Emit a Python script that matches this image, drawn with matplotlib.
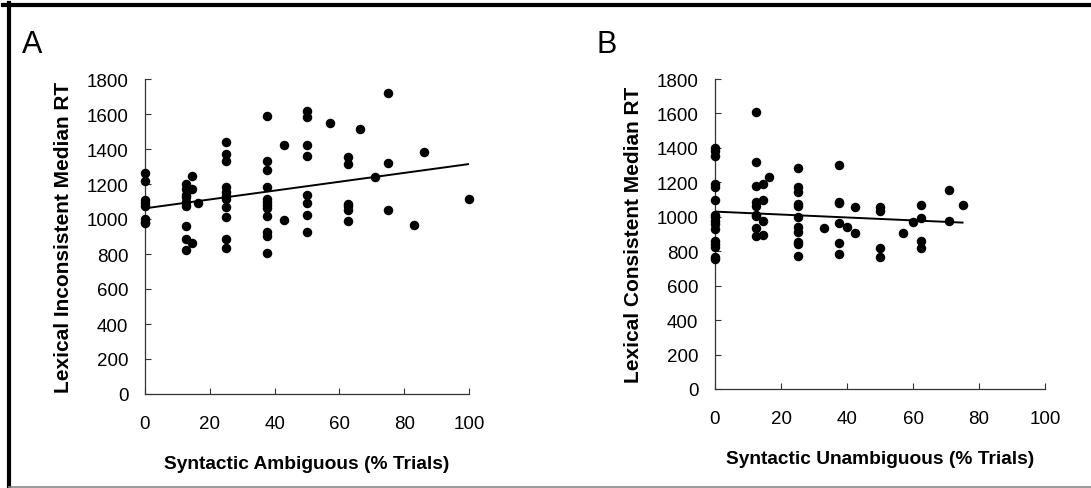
import matplotlib
matplotlib.use('Agg')
import matplotlib.pyplot as plt
from matplotlib.lines import Line2D

plt.rcParams['font.family'] = ['Liberation Sans', 'DejaVu Sans']

# Panel A: syntactic ambiguous (% trials) vs lexical inconsistent median RT
amb_x = [0, 0, 0, 0, 0, 0, 0, 0,
         12.5, 12.5, 12.5, 12.5, 12.5, 12.5, 12.5, 12.5, 12.5,
         14.5, 14.5, 14.5, 16.5,
         25, 25, 25, 25, 25, 25, 25, 25, 25, 25, 25,
         37.5, 37.5, 37.5, 37.5, 37.5, 37.5, 37.5, 37.5, 37.5, 37.5, 37.5, 37.5,
         43, 43,
         50, 50, 50, 50, 50, 50, 50, 50,
         57,
         62.5, 62.5, 62.5, 62.5, 62.5, 62.5,
         66.5, 71, 75, 75, 75, 83, 86, 100]
amb_rt = [1263, 1219, 1109, 1090, 1075, 1000, 985, 977,
          1200, 1171, 1137, 1124, 1099, 1072, 962, 886, 825,
          1244, 1171, 861, 1093,
          1438, 1371, 1333, 1185, 1152, 1133, 1114, 1067, 1010, 886, 834,
          1589, 1331, 1282, 1181, 1114, 1099, 1080, 1061, 1019, 924, 905, 808,
          1423, 992,
          1619, 1585, 1423, 1360, 1137, 1093, 1025, 924,
          1547,
          1356, 1314, 1086, 1072, 1053, 987,
          1514, 1242, 1720, 1322, 1051, 964, 1385, 1112]
amb_fit = (1061, 2.53)      # intercept, slope
amb_fit_range = (0, 100)

# Panel B: syntactic unambiguous (% trials) vs lexical consistent median RT
unamb_x = [0, 0, 0, 0, 0, 0, 0, 0, 0, 0, 0, 0, 0, 0, 0, 0,
           12.5, 12.5, 12.5, 12.5, 12.5, 12.5, 12.5, 12.5, 12.5,
           14.5, 14.5, 14.5, 14.5, 16.5,
           25, 25, 25, 25, 25, 25, 25, 25, 25, 25, 25,
           33,
           37.5, 37.5, 37.5, 37.5, 37.5, 37.5,
           40, 42.5, 42.5,
           50, 50, 50, 50,
           57, 60,
           62.5, 62.5, 62.5, 62.5,
           71, 71, 75]
unamb_rt = [1399, 1380, 1351, 1190, 1171, 1098, 1013, 1001, 974, 958, 929, 858, 842, 823, 765, 756,
            1606, 1320, 1177, 1088, 1065, 1013, 1003, 933, 891,
            1190, 1100, 978, 895, 1229,
            1281, 1171, 1146, 1074, 1061, 997, 939, 910, 856, 842, 775,
            935,
            1302, 1088, 1080, 962, 846, 781,
            939, 1059, 906,
            1055, 1032, 817, 765,
            906, 968,
            1069, 991, 862, 819,
            1156, 978, 1071]
unamb_fit = (1030, -0.85)
unamb_fit_range = (0, 75)

y_ticks = list(range(0, 1801, 200))
x_ticks = list(range(0, 101, 20))

fig = plt.figure(figsize=(10.91, 4.89), dpi=100)
ax_a = fig.add_axes([145 / 1091, 94 / 489, 324 / 1091, 315 / 489])
ax_b = fig.add_axes([715 / 1091, 99 / 489, 330 / 1091, 310 / 489])

panels = [
    (ax_a, amb_x, amb_rt, amb_fit, amb_fit_range,
     'Syntactic Ambiguous (% Trials)', 'Lexical Inconsistent Median RT', 'A', -0.38),
    (ax_b, unamb_x, unamb_rt, unamb_fit, unamb_fit_range,
     'Syntactic Unambiguous (% Trials)', 'Lexical Consistent Median RT', 'B', -0.36),
]

for ax, xs, ys, fit, rng, xlab, ylab, letter, lx in panels:
    ax.scatter(xs, ys, s=34, color='black', zorder=3, clip_on=False)
    fx = list(rng)
    fy = [fit[0] + fit[1] * v for v in fx]
    ax.plot(fx, fy, color='black', lw=1.4, zorder=2)
    ax.set_xlim(0, 100)
    ax.set_ylim(0, 1800)
    ax.set_xticks(x_ticks)
    ax.set_yticks(y_ticks)
    for s in ['top', 'right']:
        ax.spines[s].set_visible(False)
    for s in ['left', 'bottom']:
        ax.spines[s].set_color('#333333')
        ax.spines[s].set_linewidth(0.9)
    ax.tick_params(axis='both', direction='in', length=4, width=0.8,
                   color='#333333', labelsize=13.5)
    ax.tick_params(axis='x', pad=15)
    ax.tick_params(axis='y', pad=12)
    ax.set_xlabel(xlab, fontsize=13.8, fontweight='bold', labelpad=17)
    ax.set_ylabel(ylab, fontsize=15, fontweight='bold', labelpad=10)
    ax.text(lx, 1.16, letter, transform=ax.transAxes,
            fontsize=22, ha='left', va='top')

# border of the figure box
fig.add_artist(Line2D([3 / 1091, 1], [1 - 6 / 489, 1 - 6 / 489],
                      color='black', lw=3, transform=fig.transFigure))
fig.add_artist(Line2D([9 / 1091, 9 / 1091], [1 - 4 / 489, 0],
                      color='black', lw=3, transform=fig.transFigure))
fig.add_artist(Line2D([9 / 1091, 1], [1.5 / 489, 1.5 / 489],
                      color='#888888', lw=1.2, transform=fig.transFigure))

fig.savefig('out.png', dpi=100)
